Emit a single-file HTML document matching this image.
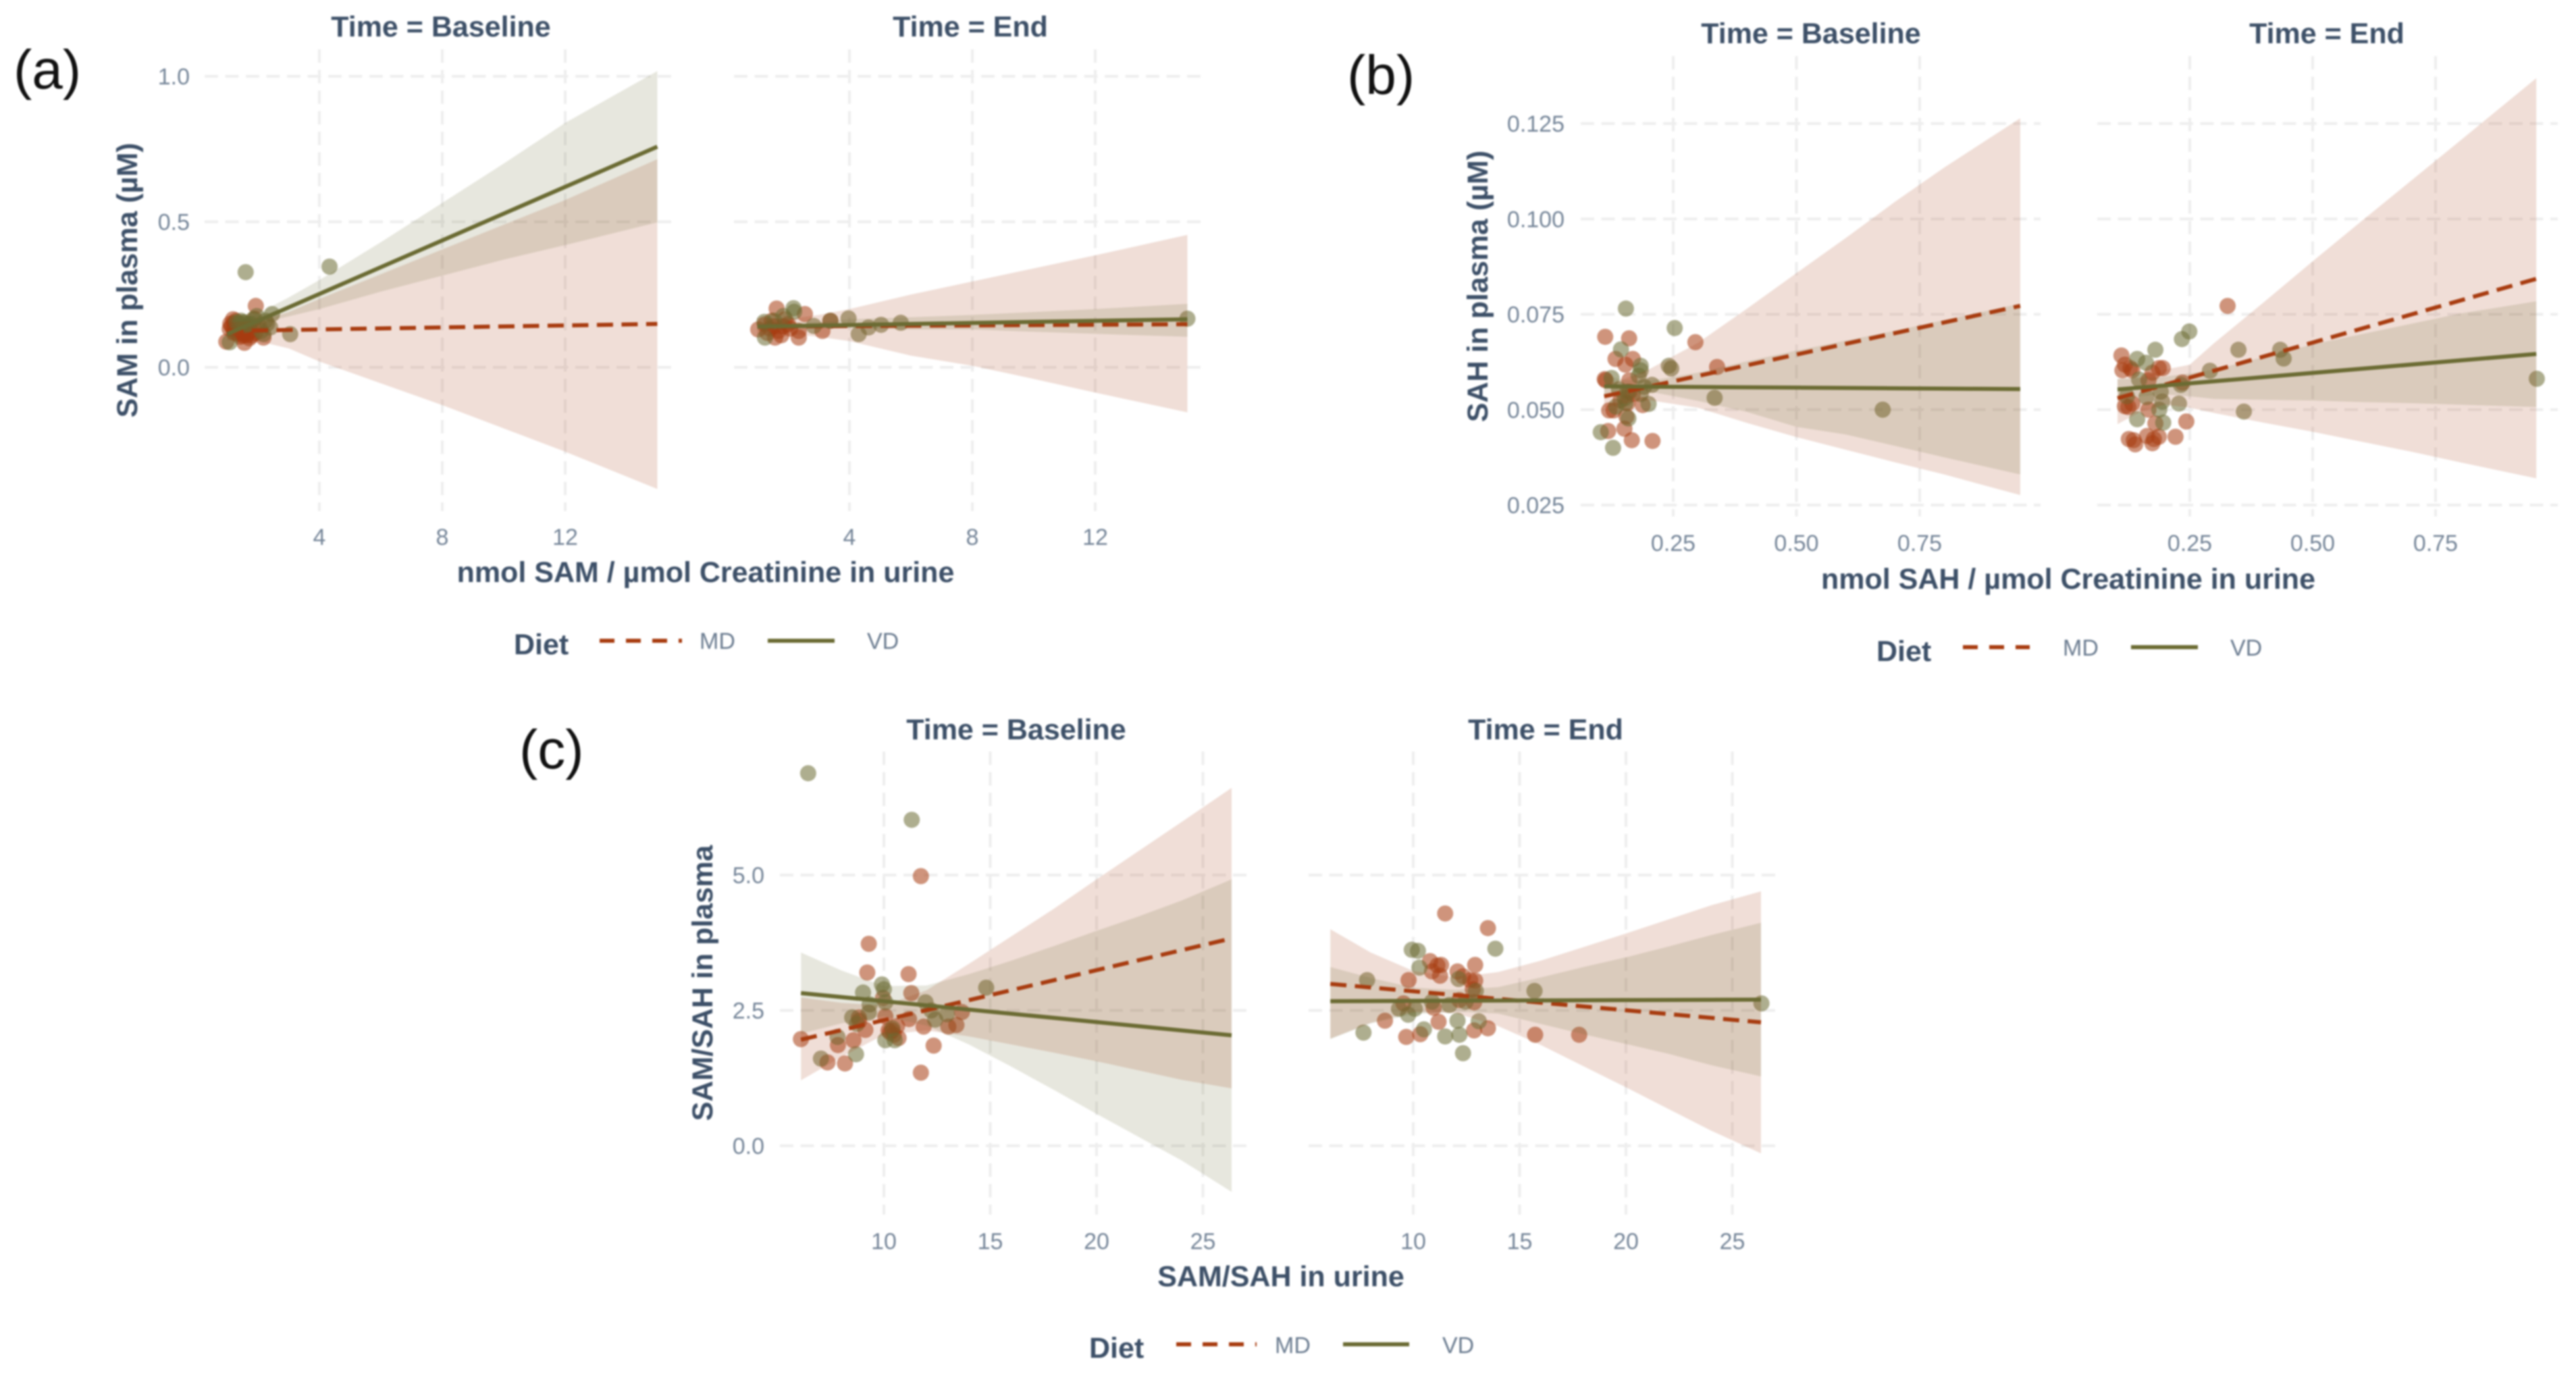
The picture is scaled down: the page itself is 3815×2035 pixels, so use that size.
<!DOCTYPE html>
<html lang="en">
<head>
<meta charset="utf-8">
<title>SAM and SAH in plasma versus urine by diet and time</title>
<style>
html,body{margin:0;padding:0;background:#fff;}
body{width:3815px;height:2035px;overflow:hidden;}
svg{display:block;filter:blur(1.2px);font-family:"Liberation Sans",Arial,sans-serif;}
.t{font-weight:700;font-size:43px;fill:#3d5068;}
.tick{font-size:34px;fill:#768699;}
.leg{font-size:34px;fill:#6c7d91;}
.tag{font-size:82px;fill:#111;}
</style>
</head>
<body>
<svg id="chart" xmlns="http://www.w3.org/2000/svg" width="3815" height="2035" viewBox="0 0 3815 2035">
<rect x="0" y="0" width="3815" height="2035" fill="#fff"/>
<g id="panels"></g>

<text class="tag" x="20" y="131">(a)</text>
<text class="tag" x="1995" y="139">(b)</text>
<text class="tag" x="769" y="1138">(c)</text>

<text class="t" text-anchor="middle" x="653" y="54">Time = Baseline</text>
<text class="t" text-anchor="middle" x="1437" y="54">Time = End</text>
<text class="t" text-anchor="middle" x="2682" y="64">Time = Baseline</text>
<text class="t" text-anchor="middle" x="3446" y="64">Time = End</text>
<text class="t" text-anchor="middle" x="1505" y="1095">Time = Baseline</text>
<text class="t" text-anchor="middle" x="2289" y="1095">Time = End</text>

<text class="t" text-anchor="middle" x="1045" y="862">nmol SAM / µmol Creatinine in urine</text>
<text class="t" text-anchor="middle" x="3063" y="872">nmol SAH / µmol Creatinine in urine</text>
<text class="t" text-anchor="middle" x="1897" y="1905">SAM/SAH in urine</text>

<text class="t" text-anchor="middle" transform="translate(203,415) rotate(-90)">SAM in plasma (µM)</text>
<text class="t" text-anchor="middle" transform="translate(2203,424) rotate(-90)">SAH in plasma (µM)</text>
<text class="t" text-anchor="middle" transform="translate(1055,1456) rotate(-90)">SAM/SAH in plasma</text>

<g>
<text class="t" x="761" y="969">Diet</text>
<line x1="888" x2="1010" y1="949" y2="949" stroke="#a83c10" stroke-width="6" stroke-dasharray="22 17"/>
<text class="leg" x="1036" y="961">MD</text>
<line x1="1137" x2="1236" y1="949" y2="949" stroke="#6b6b33" stroke-width="6"/>
<text class="leg" x="1284" y="961">VD</text>
</g>
<g>
<text class="t" x="2779" y="979">Diet</text>
<line x1="2907" x2="3006" y1="958.5" y2="958.5" stroke="#a83c10" stroke-width="6" stroke-dasharray="22 17"/>
<text class="leg" x="3055" y="971">MD</text>
<line x1="3156" x2="3255" y1="958.5" y2="958.5" stroke="#6b6b33" stroke-width="6"/>
<text class="leg" x="3303" y="971">VD</text>
</g>
<g>
<text class="t" x="1613" y="2011">Diet</text>
<line x1="1742" x2="1861" y1="1991" y2="1991" stroke="#a83c10" stroke-width="6" stroke-dasharray="22 17"/>
<text class="leg" x="1888" y="2004">MD</text>
<line x1="1989" x2="2087" y1="1991" y2="1991" stroke="#6b6b33" stroke-width="6"/>
<text class="leg" x="2136" y="2004">VD</text>
</g>
</svg>

<script>
// ---- tick labels ----
const aXTicks = ['4','8','12'];
const aYTicks = ['0.0','0.5','1.0'];
const bXTicks = ['0.25','0.50','0.75'];
const bYTicks = ['0.025','0.050','0.075','0.100','0.125'];
const cXTicks = ['10','15','20','25'];
const cYTicks = ['0.0','2.5','5.0'];

// ---- panel a, baseline ----
const aBaseMdX = [1.93,.97,1.56,2.18,1.19,1.14,1.23,1.52,1.8,1.3,1.45,1.67,1.58,1.36,1.23,1.08,1.91,2.02,1.89,1.2,1.35,1.5,1.65,1.1,1.28,1.42,1.75,1.6,1.72];
const aBaseMdY = [.211,.088,.084,.102,.165,.142,.118,.109,.109,.125,.125,.118,.132,.142,.153,.132,.118,.144,.167,.13,.115,.115,.11,.15,.16,.105,.125,.14,.1];
const aBaseVdX = [1.6,4.33,3.05,1.08,2.46,2.18,1.96,2.4,1.52,1.67,1.3,1.45,1.75,1.85,2.1,1.4,1.6,2.25,1.55,2.3];
const aBaseVdY = [.327,.346,.114,.086,.183,.114,.176,.137,.153,.148,.155,.16,.15,.165,.125,.15,.145,.16,.155,.15];
const aBaseBandX = [1,2,3,4,6,8,10,12,15];
const aBaseMdHi = [.155,.16,.19,.235,.32,.405,.49,.575,.715];
const aBaseMdLo = [.095,.09,.065,.02,-.055,-.13,-.21,-.29,-.418];
const aBaseVdHi = [.135,.185,.24,.30,.43,.565,.70,.84,1.018];
const aBaseVdLo = [.09,.15,.175,.20,.26,.315,.37,.42,.498];
const aBaseMdFit = [.125,.149];
const aBaseVdFit = [.114,.758];
const aBaseFitX = [1,15];

// ---- panel a, end ----
const aEndMdX = [1.63,2.55,3.38,3.12,2.35,2.35,1.58,1.03,1.25,1.41,1.55,1.69,1.85,2.0,2.07,1.78,1.47,1.33,1.91];
const aEndMdY = [.202,.183,.16,.125,.125,.102,.102,.13,.148,.133,.141,.125,.141,.148,.133,.11,.16,.118,.165];
const aEndVdX = [2.18,2.2,1.55,1.85,1.23,1.25,2.84,3.97,4.3,4.62,5.03,5.67,3.38,15.0];
const aEndVdY = [.203,.191,.16,.176,.156,.102,.142,.168,.114,.137,.146,.153,.16,.167];
const aEndBandX = [1,2,3,4,6,8,10,12,15];
const aEndMdHi = [.17,.165,.18,.2,.25,.295,.34,.385,.455];
const aEndMdLo = [.11,.115,.105,.09,.04,.005,-.04,-.087,-.155];
const aEndVdHi = [.155,.155,.155,.165,.172,.18,.19,.2,.218];
const aEndVdLo = [.125,.13,.135,.135,.13,.13,.122,.115,.105];
const aEndMdFit = [.14,.148];
const aEndVdFit = [.14,.165];
const aEndFitX = [1,15];

// ---- panel b, baseline ----
const bBaseMdX = [.112,.1605,.295,.339,.133,.168,.153,.113,.111,.161,.12,.129,.157,.155,.188,.118,.151,.166,.208,.161,.143,.168];
const bBaseMdY = [.0691,.0687,.0677,.0612,.0633,.0633,.0618,.0577,.058,.0577,.0498,.0498,.0517,.0482,.0512,.0444,.045,.042,.0418,.0547,.0524,.0541];
const bBaseVdX = [.154,.253,.144,.184,.184,.241,.246,.125,.18,.207,.191,.14,.157,.152,.184,.134,.153,.2,.159,.103,.128,.334,.675];
const bBaseVdY = [.0765,.0714,.0658,.0615,.0603,.0615,.0608,.0583,.0589,.0565,.056,.0553,.0547,.053,.0541,.0508,.0517,.0515,.0477,.0441,.04,.0531,.05];
const bBaseBandX = [.11,.15,.2,.3,.4,.5,.6,.7,.8,.954];
const bBaseMdHi = [.0565,.058,.0605,.0675,.0765,.0858,.095,.1045,.1135,.1264];
const bBaseMdLo = [.0505,.0516,.0525,.0505,.0465,.0428,.0395,.0362,.033,.0276];
const bBaseVdHi = [.059,.0578,.0575,.0597,.0627,.0655,.0681,.0707,.0735,.0778];
const bBaseVdLo = [.053,.0545,.0548,.0523,.0494,.0455,.0435,.0405,.0375,.033];
const bBaseMdFit = [.0535,.0772];
const bBaseVdFit = [.0561,.0554];
const bBaseFitX = [.11,.954];

// ---- panel b, end ----
const bEndMdX = [.327,.111,.118,.113,.129,.133,.174,.195,.187,.166,.235,.118,.133,.125,.166,.243,.18,.163,.187,.174,.221,.126,.136,.139,.177];
const bEndMdY = [.0772,.0642,.0618,.0603,.0609,.0603,.0597,.0609,.0609,.0577,.0571,.0509,.0516,.0507,.05,.0469,.0464,.0431,.0429,.0412,.0429,.0423,.042,.0409,.0423];
const bEndVdX = [.249,.234,.18,.349,.434,.441,.143,.161,.147,.291,.232,.122,.191,.194,.162,.228,.188,.36,.143,.196,.956];
const bEndVdY = [.0705,.0685,.0657,.0657,.0657,.0634,.0633,.0623,.0579,.0602,.0565,.0535,.0547,.0521,.0533,.0516,.05,.0495,.0475,.0466,.0581];
const bEndBandX = [.103,.15,.2,.25,.3,.4,.5,.6,.7,.8,.955];
const bEndMdHi = [.058,.0585,.0605,.0618,.0675,.0781,.0889,.0995,.11,.1205,.1369];
const bEndMdLo = [.0462,.0495,.0513,.0505,.0491,.0466,.0442,.0416,.039,.0362,.032];
const bEndVdHi = [.0581,.0583,.0587,.0595,.0605,.0638,.0671,.0698,.0725,.0752,.0784];
const bEndVdLo = [.0524,.0535,.054,.0535,.0528,.0526,.0524,.052,.0517,.0513,.0507];
const bEndMdFit = [.053,.0843];
const bEndVdFit = [.0553,.0646];
const bEndFitX = [.103,.955];

// ---- panel c, baseline ----
const cBaseMdX = [6.1,7.35,8.17,7.84,8.57,8.82,8.84,9.13,9.22,9.29,9.96,10.07,10.29,10.4,10.47,10.69,10.62,11.18,11.16,11.29,11.74,11.74,11.87,12.34,13.03,13.41,13.67,10.22];
const cBaseMdY = [1.97,1.54,1.52,1.86,1.95,2.37,2.31,2.14,3.2,3.73,2.73,2.39,2.09,2.13,2.05,1.99,2.21,2.34,3.17,2.82,4.98,1.35,2.2,1.85,2.2,2.23,2.47,2.13];
const cBaseVdX = [6.44,11.31,14.81,7.04,7.82,8.69,8.51,9.02,9.33,9.29,9.91,10.0,10.07,10.07,10.51,10.4,11.96,12.23,12.41,12.96,8.73];
const cBaseVdY = [6.88,6.02,2.92,1.61,2.01,1.69,2.37,2.83,2.61,2.46,2.98,2.89,2.65,1.95,1.95,2.17,2.65,2.5,2.33,2.43,2.25];
const cBaseBandX = [6.1,8,10,12,14,16,18,20,22,24,26.35];
const cBaseMdHi = [2.74,2.64,2.59,2.87,3.36,3.87,4.38,4.92,5.45,5.98,6.61];
const cBaseMdLo = [1.21,1.64,2.05,2.13,2.02,1.87,1.72,1.56,1.39,1.22,1.06];
const cBaseVdHi = [3.57,3.24,2.95,2.96,3.17,3.42,3.69,3.97,4.24,4.53,4.92];
const cBaseVdLo = [2.07,2.26,2.39,2.22,1.87,1.46,1.03,.59,.16,-.27,-.85];
const cBaseMdFit = [1.96,3.83];
const cBaseVdFit = [2.82,2.04];
const cBaseFitX = [6.1,26.35];

// ---- panel c, end ----
const cEndMdX = [11.5,13.51,10.79,11.14,11.31,10.88,11.26,12.08,12.34,12.91,12.68,12.91,12.8,9.78,9.54,10.96,12.17,12.86,8.67,9.67,10.33,11.19,12.86,13.51,15.73,17.8];
const cEndMdY = [4.29,4.02,3.41,3.33,3.34,3.22,3.14,3.22,3.13,3.34,3.06,3.05,2.89,3.06,2.63,2.55,2.69,2.65,2.31,2.01,2.06,2.29,2.13,2.17,2.05,2.05];
const cEndVdX = [7.83,7.66,9.93,10.22,10.29,13.86,12.13,12.94,15.7,26.37,10.88,11.7,12.46,9.33,9.76,10.07,12.08,13.08,10.5,11.5,12.17,12.34];
const cEndVdY = [3.06,2.09,3.62,3.6,3.29,3.64,3.08,2.86,2.86,2.63,2.66,2.6,2.66,2.53,2.42,2.53,2.31,2.3,2.15,2.02,2.05,1.71];
const cEndBandX = [6.1,8,10,12,14,16,18,20,22,24,26.35];
const cEndMdHi = [4.0,3.57,3.23,3.11,3.21,3.42,3.67,3.92,4.18,4.44,4.70];
const cEndMdLo = [1.98,2.27,2.47,2.45,2.21,1.86,1.47,1.08,.68,.28,-.14];
const cEndVdHi = [3.3,3.1,2.92,2.88,2.93,3.11,3.3,3.48,3.68,3.89,4.12];
const cEndVdLo = [1.97,2.26,2.43,2.48,2.44,2.25,2.06,1.88,1.7,1.49,1.28];
const cEndMdFit = [2.99,2.28];
const cEndVdFit = [2.67,2.70];
const cEndFitX = [6.1,26.35];

const MD = '#a83c10';
const VD = '#6b6b33';
const NS = 'http://www.w3.org/2000/svg';
const root = document.getElementById('panels');

function mk(tag, parent, props) {
  const el = document.createElementNS(NS, tag);
  for (const k in props) el.setAttribute(k, props[k]);
  parent.appendChild(el);
  return el;
}

function linearScale(refPx, refVal, pxPerUnit) {
  return function (v) { return refPx + (v - refVal) * pxPerUnit; };
}

function bandPath(xs, hi, lo, sx, sy) {
  let d = '';
  for (let i = 0; i < xs.length; i++) d += (i ? 'L' : 'M') + sx(xs[i]).toFixed(1) + ' ' + sy(hi[i]).toFixed(1);
  for (let i = xs.length - 1; i >= 0; i--) d += 'L' + sx(xs[i]).toFixed(1) + ' ' + sy(lo[i]).toFixed(1);
  return d + 'Z';
}

function drawPanel(key, geo, xTicks, yTicks, s) {
  const sx = linearScale(geo.xRef, geo.xVal, geo.xK);
  const sy = linearScale(geo.yRef, geo.yVal, geo.yK);
  const g = mk('g', root, {});
  
  

  yTicks.forEach(function (label) {
    const gy = mk('line', g, {x1: geo.left, x2: geo.right, y1: sy(+label), y2: sy(+label), stroke: '#eeeeee', 'stroke-width': 4, 'stroke-dasharray': '20 10.5'});
    
    
    if (geo.showY) {
      const ty = mk('text', g, {x: geo.yLabelX, y: sy(+label) + 12, 'text-anchor': 'end', 'class': 'tick'});
      
      
      ty.textContent = label;
    }
  });
  xTicks.forEach(function (label) {
    const gx = mk('line', g, {x1: sx(+label), x2: sx(+label), y1: geo.top, y2: geo.bottom, stroke: '#eeeeee', 'stroke-width': 4, 'stroke-dasharray': '20 10.5'});
    
    
    const tx = mk('text', g, {x: sx(+label), y: geo.xLabelY, 'text-anchor': 'middle', 'class': 'tick'});
    
    
    tx.textContent = label;
  });

  s.mdX.forEach(function (v, i) {
    const p = mk('circle', g, {cx: sx(v), cy: sy(s.mdY[i]), r: 12, fill: MD, 'fill-opacity': .55});
    
    
  });
  s.vdX.forEach(function (v, i) {
    const p = mk('circle', g, {cx: sx(v), cy: sy(s.vdY[i]), r: 12, fill: VD, 'fill-opacity': .55});
    
    
  });

  const rm = mk('path', g, {d: bandPath(s.bandX, s.mdHi, s.mdLo, sx, sy), fill: MD, 'fill-opacity': .17});
  
  
  const rv = mk('path', g, {d: bandPath(s.bandX, s.vdHi, s.vdLo, sx, sy), fill: VD, 'fill-opacity': .16});
  
  

  const lm = mk('line', g, {x1: sx(s.fitX[0]), x2: sx(s.fitX[1]), y1: sy(s.mdFit[0]), y2: sy(s.mdFit[1]), stroke: MD, 'stroke-width': 6, 'stroke-dasharray': '24 12.5'});
  
  
  const lv = mk('line', g, {x1: sx(s.fitX[0]), x2: sx(s.fitX[1]), y1: sy(s.vdFit[0]), y2: sy(s.vdFit[1]), stroke: VD, 'stroke-width': 6});
  
  
}

drawPanel('a-baseline',
  {left: 303, right: 998, top: 73, bottom: 757, xRef: 473, xVal: 4, xK: 45.5, yRef: 544, yVal: 0, yK: -431, showY: true, yLabelX: 281, xLabelY: 807},
  aXTicks, aYTicks,
  {mdX: aBaseMdX, mdY: aBaseMdY, vdX: aBaseVdX, vdY: aBaseVdY, bandX: aBaseBandX, mdHi: aBaseMdHi, mdLo: aBaseMdLo, vdHi: aBaseVdHi, vdLo: aBaseVdLo, fitX: aBaseFitX, mdFit: aBaseMdFit, vdFit: aBaseVdFit});
drawPanel('a-end',
  {left: 1087, right: 1781, top: 73, bottom: 757, xRef: 1258, xVal: 4, xK: 45.5, yRef: 544, yVal: 0, yK: -431, showY: false, xLabelY: 807},
  aXTicks, aYTicks,
  {mdX: aEndMdX, mdY: aEndMdY, vdX: aEndVdX, vdY: aEndVdY, bandX: aEndBandX, mdHi: aEndMdHi, mdLo: aEndMdLo, vdHi: aEndVdHi, vdLo: aEndVdLo, fitX: aEndFitX, mdFit: aEndMdFit, vdFit: aEndVdFit});
drawPanel('b-baseline',
  {left: 2341, right: 3022, top: 83, bottom: 765, xRef: 2478, xVal: .25, xK: 730, yRef: 748, yVal: .025, yK: -5650, showY: true, yLabelX: 2317, xLabelY: 816},
  bXTicks, bYTicks,
  {mdX: bBaseMdX, mdY: bBaseMdY, vdX: bBaseVdX, vdY: bBaseVdY, bandX: bBaseBandX, mdHi: bBaseMdHi, mdLo: bBaseMdLo, vdHi: bBaseVdHi, vdLo: bBaseVdLo, fitX: bBaseFitX, mdFit: bBaseMdFit, vdFit: bBaseVdFit});
drawPanel('b-end',
  {left: 3106, right: 3788, top: 83, bottom: 765, xRef: 3243, xVal: .25, xK: 728, yRef: 748, yVal: .025, yK: -5650, showY: false, xLabelY: 816},
  bXTicks, bYTicks,
  {mdX: bEndMdX, mdY: bEndMdY, vdX: bEndVdX, vdY: bEndVdY, bandX: bEndBandX, mdHi: bEndMdHi, mdLo: bEndMdLo, vdHi: bEndVdHi, vdLo: bEndVdLo, fitX: bEndFitX, mdFit: bEndMdFit, vdFit: bEndVdFit});
drawPanel('c-baseline',
  {left: 1155, right: 1849, top: 1113, bottom: 1799, xRef: 1309, xVal: 10, xK: 31.5, yRef: 1697, yVal: 0, yK: -80.2, showY: true, yLabelX: 1132, xLabelY: 1850},
  cXTicks, cYTicks,
  {mdX: cBaseMdX, mdY: cBaseMdY, vdX: cBaseVdX, vdY: cBaseVdY, bandX: cBaseBandX, mdHi: cBaseMdHi, mdLo: cBaseMdLo, vdHi: cBaseVdHi, vdLo: cBaseVdLo, fitX: cBaseFitX, mdFit: cBaseMdFit, vdFit: cBaseVdFit});
drawPanel('c-end',
  {left: 1938, right: 2632, top: 1113, bottom: 1799, xRef: 2093, xVal: 10, xK: 31.5, yRef: 1697, yVal: 0, yK: -80.2, showY: false, xLabelY: 1850},
  cXTicks, cYTicks,
  {mdX: cEndMdX, mdY: cEndMdY, vdX: cEndVdX, vdY: cEndVdY, bandX: cEndBandX, mdHi: cEndMdHi, mdLo: cEndMdLo, vdHi: cEndVdHi, vdLo: cEndVdLo, fitX: cEndFitX, mdFit: cEndMdFit, vdFit: cEndVdFit});
</script>
</body>
</html>
